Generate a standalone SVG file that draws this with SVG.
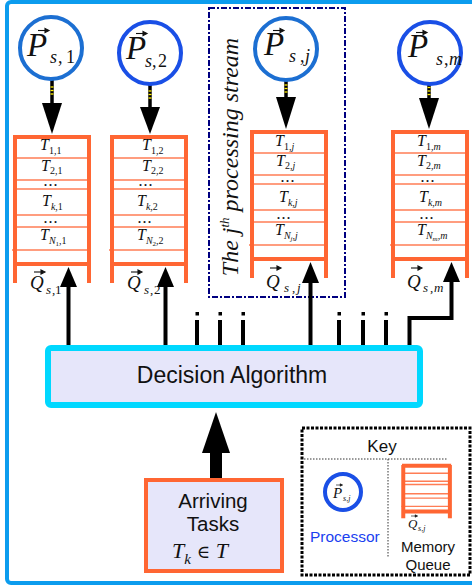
<svg xmlns="http://www.w3.org/2000/svg" xmlns:xlink="http://www.w3.org/1999/xlink" width="472" height="586" viewBox="0 0 472 586">
  <style>
    .frame-line { stroke: #ff6633; stroke-width: 4; vector-effect: non-scaling-stroke; }
    .row-line { stroke: #ff7d55; stroke-width: 1.4; vector-effect: non-scaling-stroke; }
    .proc-a { fill: #ffffff; stroke: #1c6fd2; stroke-width: 4; }
    .proc-b { fill: #ffffff; stroke: #1a4fe6; stroke-width: 4; }
    .math { font-family: "Liberation Serif", "DejaVu Serif", serif; font-style: italic; fill: #111; }
    .up { font-style: normal; }
    .sans { font-family: "Liberation Sans", Arial, sans-serif; fill: #111; }
    .tq { font-size: 16px; }
    .sb { font-size: 10px; }
    .dots { font-family: "Liberation Serif", serif; font-weight: bold; font-size: 12px; letter-spacing: 2px; fill: #111; }
    .wire { stroke: #000; stroke-width: 4; fill: none; }
    .stub { stroke: #000; stroke-width: 3.5; }
    .stripe { stroke: #ffee00; stroke-width: 1.3; }
    .vec { stroke: #111; stroke-width: 1.1; fill: #111; }
  </style>
  <defs>
    <!-- memory queue frame: top bar, two legs, bottom bar and slot lines -->
    <g id="queue-frame" fill="none">
      <line class="row-line" x1="2" y1="23" x2="76" y2="23"/>
      <line class="row-line" x1="2" y1="45" x2="76" y2="45"/>
      <line class="row-line" x1="2" y1="54" x2="76" y2="54"/>
      <line class="row-line" x1="2" y1="80" x2="76" y2="80"/>
      <line class="row-line" x1="2" y1="92" x2="76" y2="92"/>
      <line class="row-line" x1="-1" y1="115" x2="76" y2="115"/>
      <line class="frame-line" x1="0" y1="2" x2="78" y2="2"/>
      <line class="frame-line" x1="2" y1="0" x2="2" y2="148"/>
      <line class="frame-line" x1="76" y1="0" x2="76" y2="148"/>
      <line class="frame-line" x1="0" y1="129" x2="78" y2="129"/>
    </g>
    <!-- vector accent drawn over P and Q -->
    <g id="vec">
      <line class="vec" x1="0" y1="0" x2="8" y2="0"/>
      <polygon class="vec" points="7,-2 11,0 7,2"/>
    </g>
  </defs>

  <!-- outer border -->
  <rect x="7" y="2" width="490" height="581" rx="4" fill="none" stroke="#0c9cee" stroke-width="4"/>

  <!-- j-th processing stream outline -->
  <g id="stream-j">
    <rect x="209" y="8" width="136" height="289" fill="none" stroke="#000080" stroke-width="2" stroke-dasharray="6,2,2,2"/>
    <text class="math" font-size="24" text-anchor="middle" transform="translate(238,157) rotate(-90)">The j<tspan font-size="13" dy="-9">th</tspan><tspan dy="9"> processing stream</tspan></text>
  </g>

  <!-- connectors -->
  <g id="connectors">
    <!-- processor to queue links -->
    <g id="link-p1">
      <line class="stub" x1="52" y1="80" x2="52" y2="104"/>
      <line class="stripe" x1="50.5" y1="87" x2="53.5" y2="87"/>
      <line class="stripe" x1="50.5" y1="90.5" x2="53.5" y2="90.5"/>
      <line class="stripe" x1="50.5" y1="94" x2="53.5" y2="94"/>
      <polygon points="42,103 62,103 52,134" fill="#000"/>
    </g>
    <g id="link-p2">
      <line class="stub" x1="150" y1="85" x2="150" y2="108"/>
      <line class="stripe" x1="148.5" y1="91" x2="151.5" y2="91"/>
      <line class="stripe" x1="148.5" y1="94.5" x2="151.5" y2="94.5"/>
      <line class="stripe" x1="148.5" y1="98" x2="151.5" y2="98"/>
      <polygon points="140,107 160,107 150,134" fill="#000"/>
    </g>
    <g id="link-pj">
      <line class="stub" x1="286" y1="81" x2="286" y2="98"/>
      <line class="stripe" x1="284.5" y1="85" x2="287.5" y2="85"/>
      <line class="stripe" x1="284.5" y1="88.5" x2="287.5" y2="88.5"/>
      <line class="stripe" x1="284.5" y1="92" x2="287.5" y2="92"/>
      <polygon points="276,97 296,97 286,129" fill="#000"/>
    </g>
    <g id="link-pm">
      <line class="stub" x1="429" y1="84" x2="429" y2="99"/>
      <line class="stripe" x1="427.5" y1="87.5" x2="430.5" y2="87.5"/>
      <line class="stripe" x1="427.5" y1="91" x2="430.5" y2="91"/>
      <line class="stripe" x1="427.5" y1="94.5" x2="430.5" y2="94.5"/>
      <polygon points="419,98 439,98 429,129" fill="#000"/>
    </g>

    <!-- decision algorithm to queues -->
    <line class="wire" x1="68.5" y1="286" x2="68.5" y2="346"/>
    <polygon points="60,287 77,287 68.5,267" fill="#000"/>
    <line class="wire" x1="165.5" y1="286" x2="165.5" y2="346"/>
    <polygon points="157,287 174,287 165.5,267" fill="#000"/>
    <line class="wire" x1="310.5" y1="282" x2="310.5" y2="346"/>
    <polygon points="302,283 319,283 310.5,262" fill="#000"/>
    <polyline class="wire" points="451.5,281 451.5,318 409.5,318 409.5,346"/>
    <polygon points="443,282 460,282 451.5,262" fill="#000"/>

    <!-- elided streams -->
    <g fill="#000">
      <rect x="195.5" y="312" width="3.5" height="3.5"/>
      <rect x="218.5" y="312" width="3.5" height="3.5"/>
      <rect x="241.5" y="312" width="3.5" height="3.5"/>
      <rect x="337.5" y="312" width="3.5" height="3.5"/>
      <rect x="361.5" y="312" width="3.5" height="3.5"/>
      <rect x="384.5" y="312" width="3.5" height="3.5"/>
    </g>
    <line class="wire" x1="197" y1="320" x2="197" y2="346"/>
    <line class="wire" x1="220" y1="320" x2="220" y2="346"/>
    <line class="wire" x1="243" y1="320" x2="243" y2="346"/>
    <line class="wire" x1="339" y1="320" x2="339" y2="346"/>
    <line class="wire" x1="363" y1="320" x2="363" y2="346"/>
    <line class="wire" x1="386" y1="320" x2="386" y2="346"/>

    <!-- arriving tasks to decision algorithm -->
    <rect x="210" y="452" width="12" height="28" fill="#000"/>
    <polygon points="202,453 230,453 216,412" fill="#000"/>
  </g>

  <!-- processors -->
  <g id="proc-1">
    <circle class="proc-a" cx="51" cy="48" r="31"/>
    <text class="math" x="27" y="56" font-size="33">P</text>
    <use href="#vec" x="38" y="30.5"/>
    <text class="math" y="63" font-size="18"><tspan x="50">s</tspan><tspan class="up" x="58">,</tspan><tspan class="up" x="66">1</tspan></text>
  </g>
  <g id="proc-2">
    <circle class="proc-b" cx="150" cy="53" r="31"/>
    <text class="math" x="126" y="59" font-size="33">P</text>
    <use href="#vec" x="136" y="33.5"/>
    <text class="math" y="67" font-size="18"><tspan x="145">s</tspan><tspan class="up" x="152">,</tspan><tspan class="up" x="158">2</tspan></text>
  </g>
  <g id="proc-j">
    <circle class="proc-a" cx="286" cy="49" r="31"/>
    <text class="math" x="264" y="55" font-size="33">P</text>
    <use href="#vec" x="273" y="30.5"/>
    <text class="math" y="62" font-size="18"><tspan x="289">s</tspan><tspan class="up" x="300">,</tspan><tspan x="305">j</tspan></text>
  </g>
  <g id="proc-m">
    <circle class="proc-b" cx="430" cy="53" r="31"/>
    <text class="math" x="408" y="57" font-size="33">P</text>
    <use href="#vec" x="416" y="32.5"/>
    <text class="math" y="65" font-size="18"><tspan x="436">s</tspan><tspan class="up" x="444">,</tspan><tspan x="449">m</tspan></text>
  </g>

  <!-- memory queues -->
  <g id="queue-1">
    <use href="#queue-frame" transform="translate(13,135)"/>
    <text class="math tq" x="40" y="150">T<tspan class="sb up" dy="4">1,1</tspan></text>
    <text class="math tq" x="41" y="171">T<tspan class="sb up" dy="3">2,1</tspan></text>
    <text class="dots" x="44" y="186">...</text>
    <text class="math tq" x="42" y="206">T<tspan class="sb" dy="4">k</tspan><tspan class="sb up">,1</tspan></text>
    <text class="dots" x="44" y="223">...</text>
    <text class="math tq" x="40" y="240">T<tspan class="sb" dy="4">N</tspan><tspan class="up" font-size="7" dy="2">1</tspan><tspan class="sb up" dy="-2">,1</tspan></text>
    <text class="math" x="30" y="289" font-size="19">Q</text>
    <use href="#vec" x="34" y="272"/>
    <text class="math" y="294" font-size="13"><tspan x="46">s</tspan><tspan class="up" x="52">,</tspan><tspan class="up" x="55">1</tspan></text>
  </g>
  <g id="queue-2">
    <use href="#queue-frame" transform="translate(110,135)"/>
    <text class="math tq" x="142" y="150">T<tspan class="sb up" dy="4">1,2</tspan></text>
    <text class="math tq" x="142" y="171">T<tspan class="sb up" dy="3">2,2</tspan></text>
    <text class="dots" x="139" y="186">...</text>
    <text class="math tq" x="137" y="206">T<tspan class="sb" dy="4">k</tspan><tspan class="sb up">,2</tspan></text>
    <text class="dots" x="138" y="223">...</text>
    <text class="math tq" x="137" y="240">T<tspan class="sb" dy="4">N</tspan><tspan class="up" font-size="7" dy="2">2</tspan><tspan class="sb up" dy="-2">,2</tspan></text>
    <text class="math" x="127" y="289" font-size="19">Q</text>
    <use href="#vec" x="131" y="272"/>
    <text class="math" y="294" font-size="13"><tspan x="144">s</tspan><tspan class="up" x="150">,</tspan><tspan class="up" x="154">2</tspan></text>
  </g>
  <g id="queue-j">
    <use href="#queue-frame" transform="translate(250,130)"/>
    <text class="math tq" x="275" y="146">T<tspan class="sb" dy="4"><tspan class="up">1,</tspan>j</tspan></text>
    <text class="math tq" x="276" y="166">T<tspan class="sb" dy="3"><tspan class="up">2,</tspan>j</tspan></text>
    <text class="dots" x="281" y="182">...</text>
    <text class="math tq" x="279" y="202">T<tspan class="sb" dy="4">k<tspan class="up">,</tspan>j</tspan></text>
    <text class="dots" x="277" y="219">...</text>
    <text class="math tq" x="275" y="235">T<tspan class="sb" dy="4">N</tspan><tspan font-size="7" dy="2">j</tspan><tspan class="sb" dy="-2"><tspan class="up">,</tspan>j</tspan></text>
    <text class="math" x="266" y="288" font-size="19">Q</text>
    <use href="#vec" x="270" y="268"/>
    <text class="math" y="292" font-size="13"><tspan x="284">s</tspan><tspan class="up" x="292">,</tspan><tspan x="297">j</tspan></text>
  </g>
  <g id="queue-m">
    <use href="#queue-frame" transform="translate(391,130)"/>
    <text class="math tq" x="417" y="146">T<tspan class="sb" dy="4"><tspan class="up">1,</tspan>m</tspan></text>
    <text class="math tq" x="417" y="166">T<tspan class="sb" dy="3"><tspan class="up">2,</tspan>m</tspan></text>
    <text class="dots" x="421" y="182">...</text>
    <text class="math tq" x="419" y="202">T<tspan class="sb" dy="4">k<tspan class="up">,</tspan>m</tspan></text>
    <text class="dots" x="420" y="219">...</text>
    <text class="math tq" x="417" y="235">T<tspan class="sb" dy="4">N</tspan><tspan font-size="7" dy="2">m</tspan><tspan class="sb" dy="-2"><tspan class="up">,</tspan>m</tspan></text>
    <text class="math" x="407" y="288" font-size="19">Q</text>
    <use href="#vec" x="411" y="268"/>
    <text class="math" y="292" font-size="13"><tspan x="423">s</tspan><tspan class="up" x="430">,</tspan><tspan x="434">m</tspan></text>
  </g>

  <!-- decision algorithm -->
  <g id="decision">
    <rect x="48" y="348" width="372" height="57" rx="3" fill="#e6e6fa" stroke="#00d8ff" stroke-width="6"/>
    <text class="sans" x="232" y="383" font-size="23" text-anchor="middle">Decision Algorithm</text>
  </g>

  <!-- arriving tasks -->
  <g id="arriving">
    <rect x="146" y="480" width="136" height="91" fill="#e6e6fa" stroke="#ff6633" stroke-width="4"/>
    <text class="sans" x="213" y="508" font-size="20.5" text-anchor="middle">Arriving</text>
    <text class="sans" x="213" y="531" font-size="20.5" text-anchor="middle">Tasks</text>
    <text class="math" x="172" y="558" font-size="22">T<tspan font-size="15" dy="6">k</tspan><tspan class="up" dy="-6" font-family="'DejaVu Serif', serif" font-size="18"> ∈ </tspan>T</text>
  </g>

  <!-- key -->
  <g id="key">
    <rect x="302" y="428" width="168" height="147" fill="#fff" stroke="#000" stroke-width="3" stroke-dasharray="3,1.5"/>
    <text class="sans" x="382" y="452" font-size="17" text-anchor="middle">Key</text>
    <line x1="304" y1="459" x2="448" y2="459" stroke="#333" stroke-width="1" stroke-dasharray="1.5,1.5"/>
    <line x1="388" y1="459" x2="388" y2="557" stroke="#333" stroke-width="1" stroke-dasharray="1.5,1.5"/>
    <circle class="proc-b" cx="343" cy="492" r="18" stroke-width="3.5"/>
    <text class="math" x="333" y="498" font-size="15">P</text>
    <use href="#vec" x="336" y="485" transform="translate(336,485) scale(0.6) translate(-336,-485)"/>
    <text class="math" x="343" y="501" font-size="8">s<tspan class="up">,</tspan>j</text>
    <text class="sans" x="310" y="542" font-size="15.5" fill="#1a3ff0" style="fill:#1a3ff0">Processor</text>
    <use href="#queue-frame" transform="translate(402,465) scale(0.63,0.36)"/>
    <text class="math" x="408" y="528" font-size="13">Q</text>
    <use href="#vec" x="411" y="516" transform="translate(411,516) scale(0.6) translate(-411,-516)"/>
    <text class="math" x="418" y="531" font-size="8">s<tspan class="up">,</tspan>j</text>
    <text class="sans" x="428" y="552" font-size="15" text-anchor="middle">Memory</text>
    <text class="sans" x="428" y="570" font-size="15" text-anchor="middle">Queue</text>
  </g>
</svg>
